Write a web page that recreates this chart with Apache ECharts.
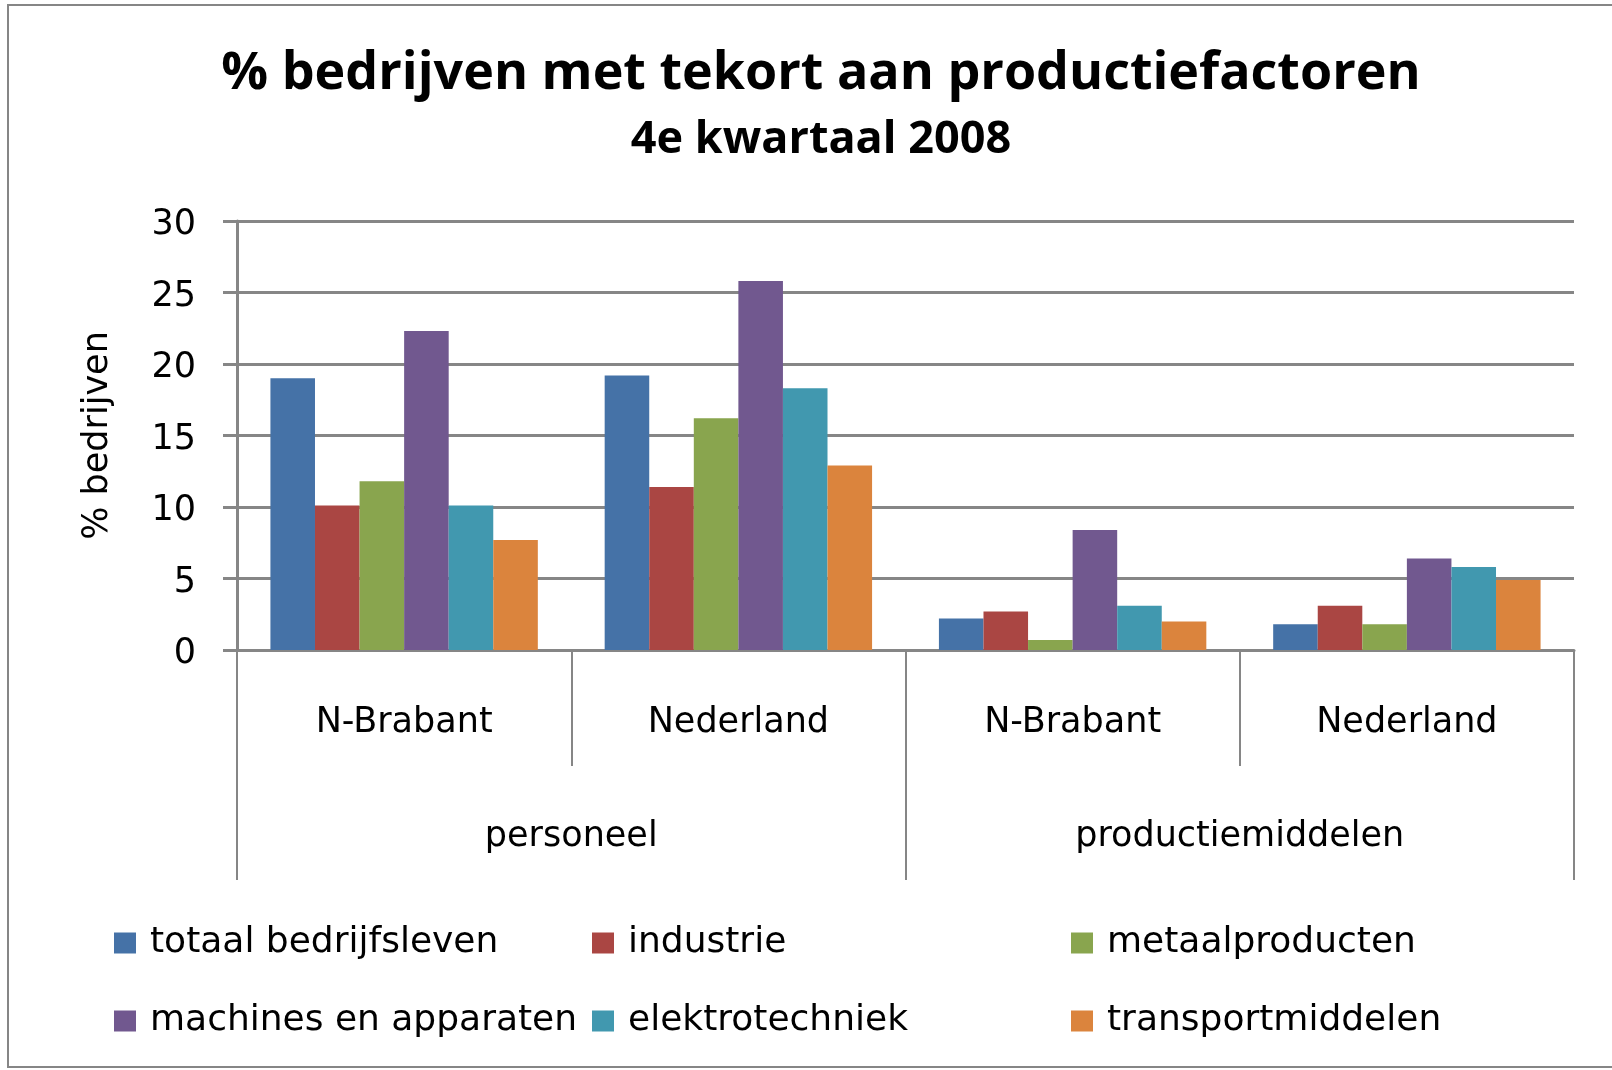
<!DOCTYPE html>
<html>
<head>
<meta charset="utf-8">
<script src="https://cdn.jsdelivr.net/npm/echarts@6/dist/echarts.min.js"></script>
<style>
  html, body { margin: 0; padding: 0; background: #fff; }
  #div-chart { width: 1612px; height: 1070px; }
</style>
</head>
<body>
<div id="div-chart"></div>
<script>
"use strict";

//
// Data
//
const regions = ["N-Brabant", "Nederland", "N-Brabant", "Nederland"];
const factors = ["personeel", "productiemiddelen"];
const sector_names = [
  "totaal bedrijfsleven",
  "industrie",
  "metaalproducten",
  "machines en apparaten",
  "elektrotechniek",
  "transportmiddelen",
];
const sector_colors = ["#4572A7", "#AA4643", "#89A54E", "#71588F", "#4198AF", "#DB843D"];
const totaal_bedrijfsleven = [19.0, 19.2, 2.2, 1.8];
const industrie = [10.1, 11.4, 2.7, 3.1];
const metaalproducten = [11.8, 16.2, 0.7, 1.8];
const machines_en_apparaten = [22.3, 25.8, 8.4, 6.4];
const elektrotechniek = [10.1, 18.3, 3.1, 5.8];
const transportmiddelen = [7.7, 12.9, 2.0, 4.9];
const y_ticks = [0, 5, 10, 15, 20, 25, 30];

const series_values = [
  totaal_bedrijfsleven,
  industrie,
  metaalproducten,
  machines_en_apparaten,
  elektrotechniek,
  transportmiddelen,
];

//
// Chart
//
const font = "DejaVu Sans";
const title_font = "Open Sans";
const gray = "#868686";
const chart = echarts.init(document.getElementById("div-chart"));

const series = sector_names.map((name, i) => ({
  type: "bar",
  name: name,
  data: series_values[i],
  xAxisIndex: 0,
  barGap: "0%",
  barCategoryGap: "20%",
  itemStyle: { color: sector_colors[i] },
  animation: false,
}));

function legend_column(left, names) {
  return {
    left: left,
    top: 923,
    orient: "vertical",
    padding: 0,
    itemGap: 38,
    icon: "rect",
    itemWidth: 22,
    itemHeight: 21,
    data: names,
    textStyle: {
      fontFamily: font,
      fontSize: 36,
      lineHeight: 36,
      color: "#000",
      padding: [4, 0, 0, 9],
    },
  };
}

chart.setOption({
  textStyle: { fontFamily: font },
  title: [
    {
      text: "% bedrijven met tekort aan productiefactoren",
      left: 816,
      textAlign: "center",
      top: 43,
      textStyle: { fontFamily: title_font, fontSize: 52, fontWeight: "bold", color: "#000" },
    },
    {
      text: "4e kwartaal 2008",
      left: 816,
      textAlign: "center",
      top: 113,
      textStyle: { fontFamily: title_font, fontSize: 45, fontWeight: "bold", color: "#000" },
    },
  ],
  legend: [
    legend_column(114, [sector_names[0], sector_names[3]]),
    legend_column(592, [sector_names[1], sector_names[4]]),
    legend_column(1071, [sector_names[2], sector_names[5]]),
  ],
  grid: { left: 237, right: 38, top: 221, bottom: 420 },
  xAxis: [
    {
      type: "category",
      data: regions,
      position: "bottom",
      axisLine: { lineStyle: { color: gray, width: 3 } },
      axisTick: { show: true, length: 116, interval: 0, lineStyle: { color: gray, width: 2 } },
      axisLabel: { margin: 55, fontSize: 35, color: "#000", interval: 0 },
      splitLine: { show: false },
    },
    {
      type: "category",
      data: factors,
      position: "bottom",
      offset: 0,
      axisLine: { show: false },
      axisTick: { show: true, length: 230, interval: 0, lineStyle: { color: gray, width: 2 } },
      axisLabel: { margin: 169, fontSize: 35, color: "#000", interval: 0 },
      splitLine: { show: false },
    },
  ],
  yAxis: {
    type: "value",
    min: y_ticks[0],
    max: y_ticks[y_ticks.length - 1],
    interval: 5,
    name: "% bedrijven",
    nameLocation: "middle",
    nameRotate: 90,
    nameGap: 122,
    nameTextStyle: { fontFamily: font, fontSize: 35, color: "#000" },
    axisLine: { show: true, lineStyle: { color: gray, width: 3 } },
    axisTick: { show: true, length: 14, lineStyle: { color: gray, width: 3 } },
    axisLabel: {
      margin: 41,
      fontSize: 35,
      color: "#000",
      verticalAlign: "top",
      lineHeight: 8,
    },
    splitLine: { lineStyle: { color: gray, width: 3 } },
  },
  graphic: [
    {
      type: "rect",
      shape: { x: 8, y: 5, width: 1700, height: 1062 },
      style: { fill: null, stroke: gray, lineWidth: 2 },
      silent: true,
      z: -1,
    },
  ],
  series: series,
});
</script>
</body>
</html>
